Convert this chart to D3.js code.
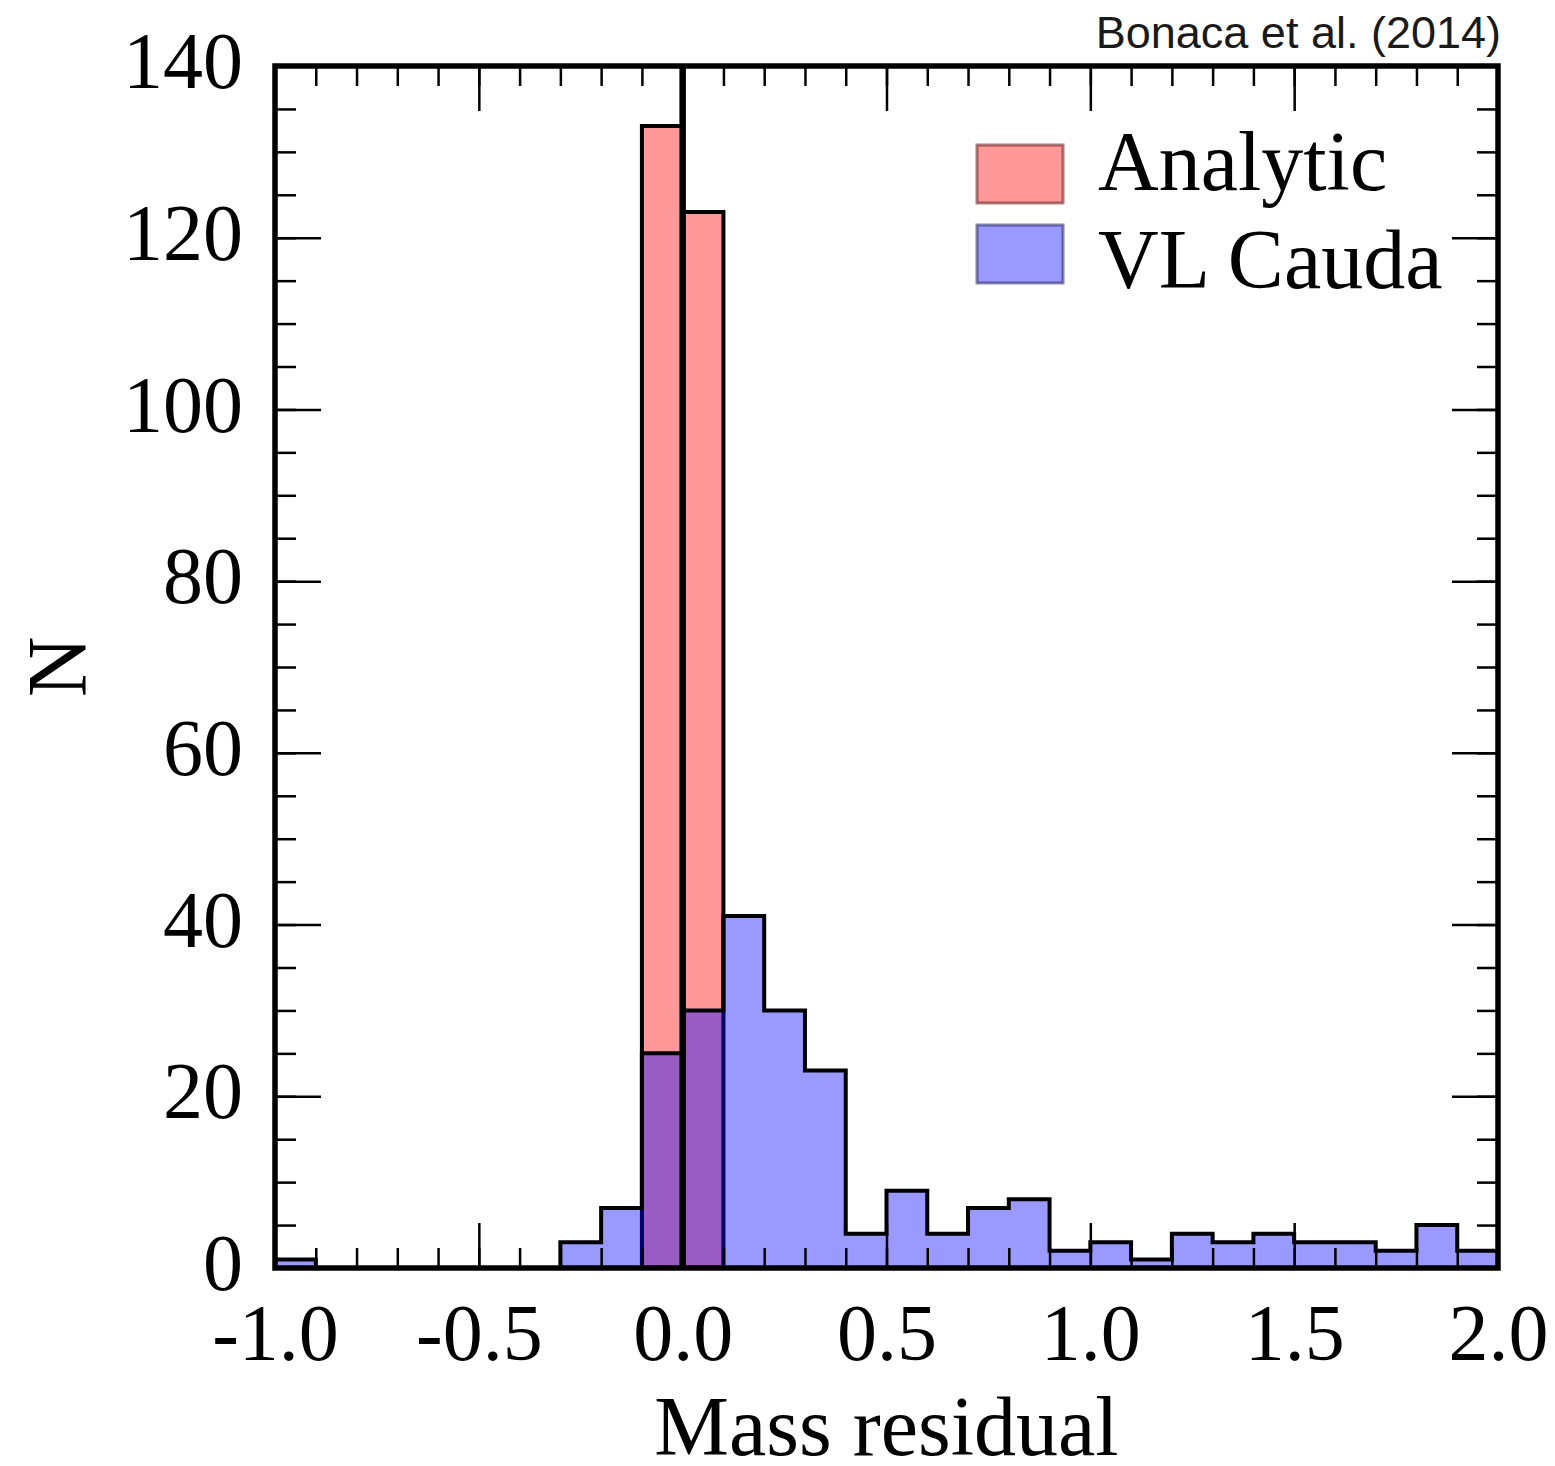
<!DOCTYPE html>
<html>
<head>
<meta charset="utf-8">
<script src="https://cdn.jsdelivr.net/npm/d3@7"></script>
<style>
  body { margin: 0; background: #fff; }
  svg { display: block; }
</style>
</head>
<body>
<svg width="1555" height="1466"></svg>
<script>
// Histogram bins (left edges), width 0.1
var binLefts = [-1.0, -0.9, -0.8, -0.7, -0.6, -0.5, -0.4, -0.3, -0.2, -0.1,
                 0.0,  0.1,  0.2,  0.3,  0.4,  0.5,  0.6,  0.7,  0.8,  0.9,
                 1.0,  1.1,  1.2,  1.3,  1.4,  1.5,  1.6,  1.7,  1.8,  1.9];
var binWidth = 0.1;

// Counts per bin
var analyticCounts = [0, 0, 0, 0, 0, 0, 0, 0, 0, 133,
                      123, 0, 0, 0, 0, 0, 0, 0, 0, 0,
                      0, 0, 0, 0, 0, 0, 0, 0, 0, 0];
var caudaCounts = [1, 0, 0, 0, 0, 0, 0, 3, 7, 25,
                   30, 41, 30, 23, 4, 9, 4, 7, 8, 2,
                   3, 1, 4, 3, 4, 3, 3, 2, 5, 2];

// Tick labels
var xTickValues = [-1.0, -0.5, 0.0, 0.5, 1.0, 1.5, 2.0];
var yTickValues = [0, 20, 40, 60, 80, 100, 120, 140];

var plotLeft = 275, plotRight = 1498, plotTop = 66, plotBottom = 1268;

var svg = d3.select("svg");

var x = d3.scaleLinear().domain([-1, 2]).range([plotLeft, plotRight]);
var y = d3.scaleLinear().domain([0, 140]).range([plotBottom, plotTop]);

// Step-filled histogram shape
function stepData(counts) {
  var pts = binLefts.map(function(b, i) { return [b, counts[i]]; });
  pts.push([binLefts[binLefts.length - 1] + binWidth, counts[counts.length - 1]]);
  return pts;
}

var area = d3.area()
  .curve(d3.curveStepAfter)
  .x(function(d) { return x(d[0]); })
  .y0(y(0))
  .y1(function(d) { return y(d[1]); });

svg.append("path")
  .attr("d", area(stepData(analyticCounts)))
  .attr("fill", "rgb(255,0,0)")
  .attr("fill-opacity", 0.4)
  .attr("stroke", "#000")
  .attr("stroke-width", 4)
  .attr("stroke-linejoin", "miter");

svg.append("path")
  .attr("d", area(stepData(caudaCounts)))
  .attr("fill", "rgb(0,0,255)")
  .attr("fill-opacity", 0.4)
  .attr("stroke", "#000")
  .attr("stroke-width", 4)
  .attr("stroke-linejoin", "miter");

// Vertical line at zero
svg.append("line")
  .attr("x1", x(0)).attr("x2", x(0))
  .attr("y1", plotTop).attr("y2", plotBottom)
  .attr("stroke", "#000")
  .attr("stroke-width", 6.5);

// Ticks on all four sides, pointing inward
function styleAxis(g) {
  g.select(".domain").remove();
  g.selectAll(".tick line").attr("stroke", "#000").attr("stroke-width", 2.5);
  g.selectAll("text")
    .attr("fill", "#000")
    .style("font-family", "'Liberation Serif', 'Times New Roman', serif")
    .style("font-size", "80px");
}

var xFormat = function(d) { return d.toFixed(1); };

svg.append("g").attr("transform", "translate(0," + plotBottom + ")")
  .call(d3.axisBottom(x).ticks(30).tickSize(-20).tickFormat(""))
  .call(styleAxis);
svg.append("g").attr("transform", "translate(0," + plotBottom + ")")
  .call(d3.axisBottom(x).tickValues(xTickValues).tickSize(-45).tickPadding(35)
    .tickFormat(xFormat))
  .call(styleAxis);
svg.append("g").attr("transform", "translate(0," + plotTop + ")")
  .call(d3.axisTop(x).ticks(30).tickSize(-20).tickFormat(""))
  .call(styleAxis);
svg.append("g").attr("transform", "translate(0," + plotTop + ")")
  .call(d3.axisTop(x).tickValues(xTickValues).tickSize(-45).tickFormat(""))
  .call(styleAxis);

svg.append("g").attr("transform", "translate(" + plotLeft + ",0)")
  .call(d3.axisLeft(y).ticks(28).tickSize(-21).tickFormat(""))
  .call(styleAxis);
svg.append("g").attr("transform", "translate(" + plotLeft + ",0)")
  .call(d3.axisLeft(y).tickValues(yTickValues).tickSize(-46).tickPadding(32))
  .call(styleAxis)
  .call(function(g) { g.selectAll("text").attr("dy", "0.27em"); });
svg.append("g").attr("transform", "translate(" + plotRight + ",0)")
  .call(d3.axisRight(y).ticks(28).tickSize(-21).tickFormat(""))
  .call(styleAxis);
svg.append("g").attr("transform", "translate(" + plotRight + ",0)")
  .call(d3.axisRight(y).tickValues(yTickValues).tickSize(-46).tickFormat(""))
  .call(styleAxis);

// Frame
svg.append("rect")
  .attr("x", plotLeft).attr("y", plotTop)
  .attr("width", plotRight - plotLeft).attr("height", plotBottom - plotTop)
  .attr("fill", "none")
  .attr("stroke", "#000")
  .attr("stroke-width", 5.5);

// Axis titles
svg.append("text")
  .attr("x", (plotLeft + plotRight) / 2).attr("y", 1455)
  .attr("text-anchor", "middle")
  .style("font-family", "'Liberation Serif', 'Times New Roman', serif")
  .style("font-size", "84px")
  .text("Mass residual");

svg.append("text")
  .attr("transform", "translate(86," + ((plotTop + plotBottom) / 2) + ") rotate(-90)")
  .attr("text-anchor", "middle")
  .style("font-family", "'Liberation Serif', 'Times New Roman', serif")
  .style("font-size", "84px")
  .text("N");

// Legend
var legendItems = [
  {label: "Analytic", color: "rgb(255,0,0)", edge: "rgb(110,40,40)", y: 145, textY: 190},
  {label: "VL Cauda", color: "rgb(0,0,255)", edge: "rgb(50,50,110)", y: 225, textY: 288}
];
legendItems.forEach(function(d) {
  svg.append("rect")
    .attr("x", 977).attr("y", d.y)
    .attr("width", 86).attr("height", 58)
    .attr("fill", d.color)
    .attr("fill-opacity", 0.4)
    .attr("stroke", d.edge)
    .attr("stroke-opacity", 0.6)
    .attr("stroke-width", 3);
  svg.append("text")
    .attr("x", 1098).attr("y", d.textY)
    .style("font-family", "'Liberation Serif', 'Times New Roman', serif")
    .style("font-size", "84px")
    .text(d.label);
});

// Citation
svg.append("text")
  .attr("x", 1501).attr("y", 48)
  .attr("text-anchor", "end")
  .style("font-family", "'Liberation Sans', Arial, sans-serif")
  .style("font-size", "45px")
  .attr("fill", "#1a1a1a")
  .text("Bonaca et al. (2014)");
</script>
</body>
</html>
